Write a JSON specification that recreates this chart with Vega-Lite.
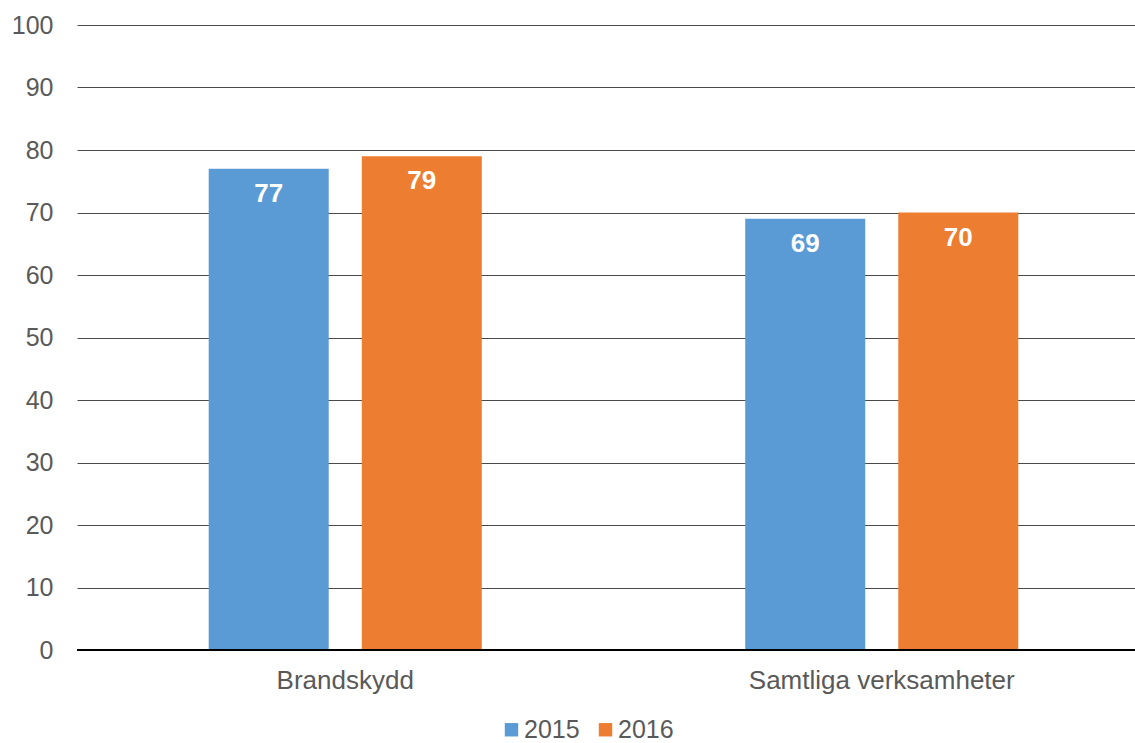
{
  "$schema": "https://vega.github.io/schema/vega-lite/v6.json",
  "width": 1073,
  "height": 625,
  "autosize": {"type": "none"},
  "padding": {"left": 77, "top": 25, "right": 0, "bottom": 93},
  "background": "white",
  "config": {
    "view": {"stroke": null},
    "font": "Liberation Sans",
    "axis": {"labelFont": "Liberation Sans", "labelColor": "#595959", "labelFontSize": 25}
  },
  "data": {
    "values": [
      {"category": "Brandskydd", "year": "2015", "value": 77},
      {"category": "Brandskydd", "year": "2016", "value": 79},
      {"category": "Samtliga verksamheter", "year": "2015", "value": 69},
      {"category": "Samtliga verksamheter", "year": "2016", "value": 70}
    ]
  },
  "encoding": {
    "x": {
      "field": "category",
      "type": "nominal",
      "sort": null,
      "scale": {"paddingInner": 0.491, "paddingOuter": 0.2455},
      "axis": {"title": null, "labelAngle": 0, "ticks": false, "domain": false, "labelPadding": 17, "labelFontSize": 26, "labelOverlap": false, "labelLimit": 0}
    },
    "xOffset": {"field": "year", "type": "nominal", "scale": {"paddingInner": 0.216, "paddingOuter": 0}},
    "y": {
      "field": "value",
      "type": "quantitative",
      "scale": {"domain": [0, 100]},
      "axis": {"title": null, "values": [0,10,20,30,40,50,60,70,80,90,100], "labelOverlap": false, "ticks": false, "domain": false, "gridColor": "#4a4a4a", "gridWidth": 1, "gridOpacity": 1, "labelPadding": 24, "labelFontSize": 25}
    }
  },
  "layer": [
    {
      "mark": {"type": "bar"},
      "encoding": {
        "color": {
          "field": "year",
          "type": "nominal",
          "scale": {"domain": ["2015", "2016"], "range": ["#5B9BD5", "#ED7D31"]},
          "legend": {
            "title": null,
            "orient": "none",
            "direction": "horizontal",
            "legendX": 422,
            "legendY": 692,
            "padding": 0,
            "symbolType": "square",
            "symbolSize": 180,
            "symbolStrokeWidth": 0,
            "labelFontSize": 25,
            "labelColor": "#595959",
            "labelFont": "Liberation Sans",
            "labelOffset": 0,
            "columnPadding": 13
          }
        }
      }
    },
    {
      "mark": {"type": "text", "color": "white", "fontWeight": "bold", "fontSize": 26, "baseline": "middle", "dy": 25, "font": "Liberation Sans"},
      "encoding": {"text": {"field": "value", "type": "quantitative"}}
    },
    {
      "mark": {"type": "rule", "color": "black", "strokeWidth": 2},
      "encoding": {"y": {"datum": 0}, "x": null, "xOffset": null}
    }
  ]
}
